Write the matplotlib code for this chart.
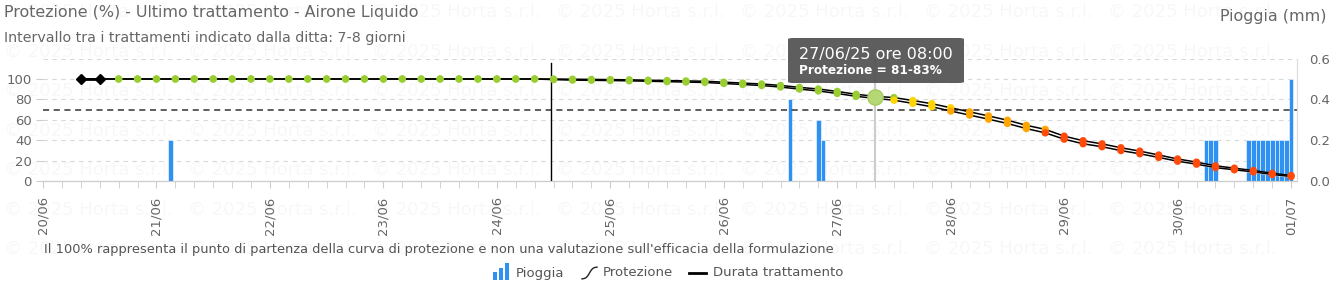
import datetime as dt

import matplotlib
matplotlib.use("Agg")
import matplotlib.dates as mdates
import matplotlib.pyplot as plt
import numpy as np
from matplotlib.lines import Line2D
from matplotlib.patches import FancyBboxPatch, Rectangle
from matplotlib.ticker import FormatStrFormatter, MultipleLocator

W, H = 1339, 285

# protezione, un punto ogni 4 ore dal 20/06 08:00
prot_start = dt.datetime(2025, 6, 20, 8)
prot_upper = [100] * 25 + [
    100.0, 99.8, 99.6, 99.4, 99.2, 98.8, 98.5, 98.1, 97.8, 96.9,
    96.0, 95.1, 93.7, 91.8, 90.2, 87.8, 85.0, 83.0, 81.8, 78.9,
    75.8, 71.8, 67.8, 63.8, 59.6, 54.6, 50.6, 44.0, 39.5, 36.4,
    32.6, 29.3, 25.5, 21.6, 18.5, 14.9, 12.6, 10.3, 7.6, 5.4,
]
prot_lower = [100] * 25 + [
    99.4, 98.9, 98.7, 98.5, 98.2, 97.8, 97.4, 97.0, 96.6, 95.6,
    94.6, 93.6, 92.1, 90.1, 88.3, 85.8, 83.0, 81.0, 79.2, 76.1,
    72.8, 68.6, 64.6, 60.6, 56.4, 51.4, 47.2, 41.0, 36.5, 33.6,
    29.8, 26.7, 23.1, 19.4, 16.5, 13.1, 11.0, 8.9, 6.4, 4.4,
]

# pioggia oraria (mm)
rain_times = [
    dt.datetime(2025, 6, 21, 3),
    dt.datetime(2025, 6, 26, 14),
    dt.datetime(2025, 6, 26, 20),
    dt.datetime(2025, 6, 26, 21),
    dt.datetime(2025, 6, 30, 6),
    dt.datetime(2025, 6, 30, 7),
    dt.datetime(2025, 6, 30, 8),
] + [dt.datetime(2025, 6, 30, h) for h in range(15, 24)] + [dt.datetime(2025, 7, 1, 0)]
rain_mm = [0.2, 0.4, 0.3, 0.2, 0.2, 0.2, 0.2] + [0.2] * 9 + [0.5]

threshold = 70
treatment_mark = dt.datetime(2025, 6, 24, 11, 30)
tooltip_index = 42

GREEN = "#9ACD32"
YELLOW = "#FFD400"
ORANGE = "#FFA500"
RED = "#FF4A0A"
BLUE = "#2F91F2"
GRAY = "#666666"


def level_color(value):
    if value >= 80:
        return GREEN
    if value >= 70:
        return YELLOW
    if value >= 50:
        return ORANGE
    return RED


def px(x, y):
    return x / W, 1 - y / H


prot_times = [prot_start + dt.timedelta(hours=4 * i) for i in range(len(prot_upper))]

fig = plt.figure(figsize=(W / 100, H / 100), dpi=100)
fig.patch.set_facecolor("white")

# filigrana
for row in range(7):
    for col in range(7):
        fig.text(
            (4 + 184 * col) / W, 1 - (12 + 39.5 * row) / H, "© 2025 Horta s.r.l.",
            fontsize=13, color="#000000", alpha=0.03, va="center", ha="left", zorder=-5,
        )

left, right = px(43, 0)[0], px(1297, 0)[0]
bottom, top = px(0, 181)[1], px(0, 58.6)[1]
ax = fig.add_axes([left, bottom, right - left, top - bottom])
ax2 = ax.twinx()
ax2.set_zorder(ax.get_zorder() - 1)
ax.patch.set_visible(False)
ax2.patch.set_visible(False)

# pioggia
ax2.bar(rain_times, rain_mm, width=1 / 24, color=BLUE, edgecolor="white", linewidth=0.4, zorder=3)
ax2.set_ylim(0, 0.6)
ax2.yaxis.set_major_locator(MultipleLocator(0.2))
ax2.yaxis.set_minor_locator(MultipleLocator(0.1))
ax2.yaxis.set_major_formatter(FormatStrFormatter("%.1f"))
ax2.grid(which="both", axis="both", color="#d9d9d9", linestyle=(0, (4, 4)), linewidth=0.8, zorder=0)
ax2.tick_params(axis="y", which="both", length=0, pad=9, labelsize=9.5, labelcolor=GRAY)

# protezione
ax.fill_between(prot_times, prot_lower, prot_upper, color="white", zorder=2)
ax.plot(prot_times, prot_upper, color="black", linewidth=1.1, zorder=3)
ax.plot(prot_times, prot_lower, color="black", linewidth=1.1, zorder=3)
ax.plot(prot_times[:2], prot_upper[:2], color="black", linewidth=2, marker="D", markersize=5, zorder=4)
for series in (prot_upper, prot_lower):
    colors = [level_color(v) for v in series[2:]]
    ax.scatter(prot_times[2:], series[2:], s=28, c=colors, linewidths=0, zorder=5)
ax.plot(
    prot_times[tooltip_index],
    (prot_upper[tooltip_index] + prot_lower[tooltip_index]) / 2,
    marker="o", markersize=11, markerfacecolor="#B5D775", markeredgecolor="#A6CC60", zorder=6,
)

ax.axhline(threshold, color="#333333", linestyle=(0, (4, 3)), linewidth=1.1, zorder=2)
ax.axvline(treatment_mark, ymax=0.96, color="black", linewidth=1.0, zorder=2)
ax.axvline(prot_times[tooltip_index], color="#cccccc", linewidth=1.5, zorder=1)

ax.set_ylim(0, 120)
ax.set_yticks([0, 20, 40, 60, 80, 100])
ax.tick_params(axis="y", length=5, color="#cccccc", pad=3, labelsize=9.5, labelcolor=GRAY)

ax.set_xlim(dt.datetime(2025, 6, 20), dt.datetime(2025, 7, 1, 1, 15))
ax.xaxis.set_major_locator(mdates.DayLocator())
ax.xaxis.set_major_formatter(mdates.DateFormatter("%d/%m"))
ax.xaxis.set_minor_locator(mdates.HourLocator(byhour=range(0, 24, 4)))
ax.tick_params(axis="x", which="both", length=5, color="#cccccc", labelsize=9.5, labelcolor=GRAY, pad=6)
for label in ax.get_xticklabels():
    label.set_rotation(90)
    label.set_ha("center")

for a in (ax, ax2):
    for side in ("left", "top"):
        a.spines[side].set_visible(False)
    a.spines["bottom"].set_color("#cccccc")
    a.spines["right"].set_color("#dddddd")

# tooltip
x0, y0 = px(788, 83)
x1, y1 = px(964, 38)
fig.add_artist(FancyBboxPatch(
    (x0, y0), x1 - x0, y1 - y0, boxstyle="round,pad=0,rounding_size=0.004",
    transform=fig.transFigure, facecolor="#555555", edgecolor="none", alpha=0.95, zorder=10,
))
fig.text(*px(799, 54), "27/06/25 ore 08:00", fontsize=11.5, color="white", va="center", zorder=11)
fig.text(*px(799, 71), "Protezione = 81-83%", fontsize=8.7, color="white", fontweight="bold",
         va="center", zorder=11)

# testi
fig.text(*px(4, 13), "Protezione (%) - Ultimo trattamento - Airone Liquido",
         fontsize=11.4, color=GRAY, va="center")
fig.text(*px(4, 38), "Intervallo tra i trattamenti indicato dalla ditta: 7-8 giorni",
         fontsize=10.3, color=GRAY, va="center")
fig.text(*px(1327, 17), "Pioggia (mm)", fontsize=11.4, color=GRAY, va="center", ha="right")
fig.text(*px(44, 250),
         "Il 100% rappresenta il punto di partenza della curva di protezione e non una "
         "valutazione sull'efficacia della formulazione",
         fontsize=9.4, color="#555555", va="center")

# legenda
for bx, by in ((493, 272), (499, 268), (505, 263)):
    fx, fy = px(bx, 280)
    fig.add_artist(Rectangle((fx, fy), 4 / W, (280 - by) / H, transform=fig.transFigure,
                             facecolor=BLUE, edgecolor="none"))
t = np.linspace(-1, 1, 30)
sx = 582 + (t + 1) * 7.5
sy = 273 - 6 * np.tanh(2.2 * t)
fig.add_artist(Line2D(sx / W, 1 - sy / H, transform=fig.transFigure, color="#222222", linewidth=1))
fig.add_artist(Line2D([689 / W, 706 / W], [1 - 273 / H] * 2, transform=fig.transFigure,
                      color="black", linewidth=2))
for lx, text in ((516, "Pioggia"), (603, "Protezione"), (713, "Durata trattamento")):
    fig.text(*px(lx, 273), text, fontsize=9.5, color="#555555", va="center")

fig.savefig("out.png", dpi=100, facecolor="white")
